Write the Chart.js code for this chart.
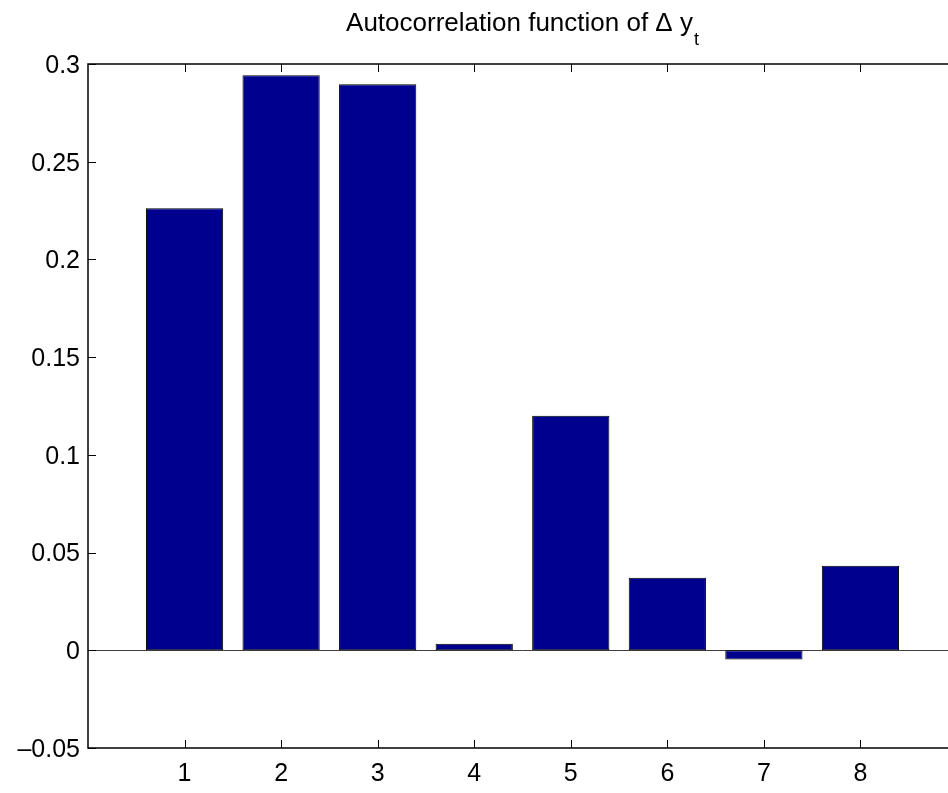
<!DOCTYPE html>
<html><head><meta charset="utf-8">
<script src="https://cdn.jsdelivr.net/npm/chart.js@4/dist/chart.umd.min.js"></script>
<style>html,body{margin:0;padding:0;background:#fff;overflow:hidden;width:948px;height:793px}canvas{display:block}</style>
</head><body>
<canvas id="c" width="1000" height="793"></canvas>
<script>
// Sample autocorrelations of the differenced series, lags 1..8
const lags = [1, 2, 3, 4, 5, 6, 7, 8];
const acf = [0.2262, 0.2942, 0.2896, 0.0034, 0.1200, 0.0371, -0.0047, 0.0433];
const yTicks = [-0.05, 0, 0.05, 0.1, 0.15, 0.2, 0.25, 0.3];
const titleMain = 'Autocorrelation function of \u0394 y';
const titleSub = 't';

const FONT = '"Liberation Sans", Arial, Helvetica, sans-serif';

function fmtY(v) {
  if (Math.abs(v) < 1e-12) return '0';
  const s = String(parseFloat(Math.abs(v).toFixed(4)));
  return (v < 0 ? '\u2013' : '') + s;
}

// Axes box, inward tick marks, zero baseline and the title
const framePlugin = {
  id: 'frame',
  beforeDatasetsDraw(chart) {
    const { ctx, chartArea: a, scales: { y } } = chart;
    const y0 = Math.round(y.getPixelForValue(0)) + 0.5;
    ctx.save();
    ctx.strokeStyle = '#404040';
    ctx.lineWidth = 1;
    ctx.beginPath();
    ctx.moveTo(a.left, y0);
    ctx.lineTo(a.right, y0);
    ctx.stroke();
    ctx.restore();
  },
  afterDatasetsDraw(chart) {
    const { ctx, chartArea: a, scales: { x, y } } = chart;
    const tl = 8;
    ctx.save();
    ctx.strokeStyle = '#000';
    ctx.lineWidth = 1.5;
    ctx.strokeRect(a.left, a.top, a.right - a.left, a.bottom - a.top);
    ctx.lineWidth = 1;
    ctx.beginPath();
    lags.forEach(v => {
      const px = Math.round(x.getPixelForValue(v)) + 0.5;
      ctx.moveTo(px, a.bottom); ctx.lineTo(px, a.bottom - tl);
      ctx.moveTo(px, a.top); ctx.lineTo(px, a.top + tl);
    });
    yTicks.forEach(v => {
      const py = Math.round(y.getPixelForValue(v)) + 0.5;
      ctx.moveTo(a.left, py); ctx.lineTo(a.left + tl, py);
      ctx.moveTo(a.right, py); ctx.lineTo(a.right - tl, py);
    });
    ctx.stroke();

    // title with subscript
    ctx.fillStyle = '#000';
    ctx.textBaseline = 'alphabetic';
    ctx.textAlign = 'left';
    const mainFont = '26px ' + FONT, subFont = '18px ' + FONT;
    ctx.font = mainFont;
    const wMain = ctx.measureText(titleMain).width;
    ctx.font = subFont;
    const wSub = ctx.measureText(titleSub).width;
    const cx = (a.left + a.right) / 2;
    const x0 = cx - (wMain + wSub + 1) / 2;
    ctx.font = mainFont;
    ctx.fillText(titleMain, x0, 31);
    ctx.font = subFont;
    ctx.fillText(titleSub, x0 + wMain + 1, 45);
    ctx.restore();
  }
};

new Chart(document.getElementById('c'), {
  type: 'bar',
  data: {
    datasets: [{
      data: lags.map((l, i) => ({ x: l, y: acf[i] })),
      backgroundColor: '#00008f',
      borderColor: '#000',
      borderWidth: 1,
      borderSkipped: false,
      barPercentage: 0.8,
      categoryPercentage: 1.0
    }]
  },
  options: {
    responsive: false,
    animation: false,
    devicePixelRatio: 1,
    layout: { padding: { left: 0, top: 64, right: 43, bottom: 0 } },
    plugins: { legend: { display: false }, tooltip: { enabled: false }, title: { display: false } },
    scales: {
      x: {
        type: 'linear',
        offset: false,
        min: 0, max: 9,
        afterBuildTicks: s => { s.ticks = lags.map(v => ({ value: v })); },
        afterFit: s => { s.height = 45; },
        grid: { display: false, drawTicks: false, offset: false },
        border: { display: false },
        ticks: { color: '#000', font: { family: FONT, size: 25 }, padding: 11, maxRotation: 0, autoSkip: false,
                 callback: v => String(v) }
      },
      y: {
        type: 'linear',
        min: -0.05, max: 0.3,
        afterBuildTicks: s => { s.ticks = yTicks.map(v => ({ value: v })); },
        afterFit: s => { s.width = 88; },
        grid: { display: false, drawTicks: false },
        border: { display: false },
        ticks: { color: '#000', font: { family: FONT, size: 25 }, padding: 8, labelOffset: 2, autoSkip: false,
                 callback: v => fmtY(v) }
      }
    }
  },
  plugins: [framePlugin]
});
</script>
</body></html>
